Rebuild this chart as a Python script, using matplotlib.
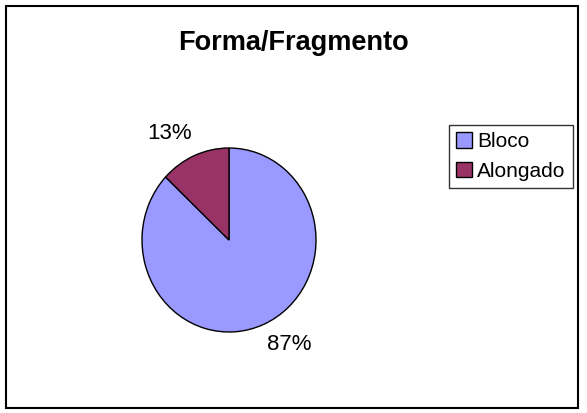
import matplotlib
matplotlib.use('Agg')
import matplotlib.pyplot as plt
from matplotlib.patches import Rectangle

plt.rcParams['font.family'] = ['Liberation Sans', 'DejaVu Sans']

categorias = ['Bloco', 'Alongado']
valores = [87, 13]
cores = ['#9999FF', '#993366']
titulo = 'Forma/Fragmento'

W, H = 587, 413
fig = plt.figure(figsize=(W/100, H/100), dpi=100)

# moldura externa
fig.patches.append(Rectangle((6/W, 5/H), 572/W, 402/H, transform=fig.transFigure,
                             fill=False, edgecolor='black', linewidth=1.5))

fig.text(293/W, 1 - 43/H, titulo, ha='center', va='center', fontsize=19.5, fontweight='bold')

# pizza levemente achatada, como no original
rx, ry = 87, 92
cx, cy = 229, 240
ax = fig.add_axes([(cx - rx)/W, (H - cy - ry)/H, 2*rx/W, 2*ry/H])
wedges, texts = ax.pie(valores, colors=cores, startangle=90, counterclock=False,
                       labels=['%d%%' % v for v in valores], labeldistance=1.35,
                       wedgeprops=dict(edgecolor='black', linewidth=1.0),
                       textprops=dict(fontsize=16))
ax.set_aspect('auto')
ax.set_xlim(-1, 1)
ax.set_ylim(-1, 1)
# rótulos deslocados como no Excel
for t, pos in zip(texts, [(0.69, -1.14), (-0.68, 1.16)]):
    t.set_position(pos)
    t.set_ha('center')
    t.set_va('center')

leg = fig.legend(wedges, categorias, loc='upper left',
                 bbox_to_anchor=(449/W, 1 - 125/H), fontsize=15,
                 frameon=True, fancybox=False, edgecolor='black',
                 handlelength=0.75, handleheight=0.75, handletextpad=0.25,
                 borderpad=0.35, labelspacing=0.5, borderaxespad=0)
leg.get_frame().set_linewidth(1.0)

fig.savefig('out.png', dpi=100)
